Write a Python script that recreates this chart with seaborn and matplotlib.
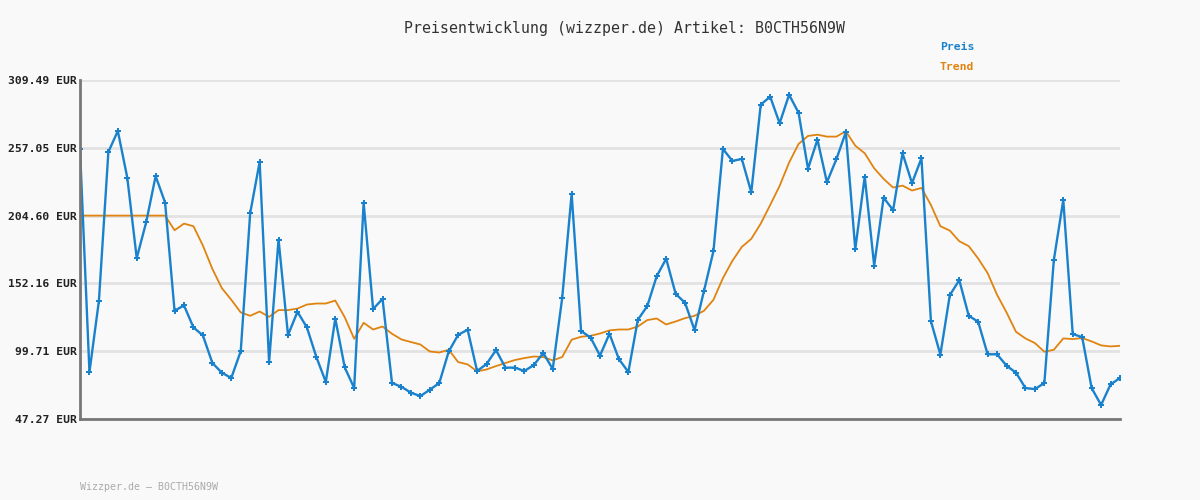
import matplotlib
matplotlib.use("Agg")
import matplotlib.pyplot as plt
import seaborn as sns
import numpy as np
import pandas as pd

title = "Preisentwicklung (wizzper.de) Artikel: B0CTH56N9W"
footer = "Wizzper.de – B0CTH56N9W"
y_ticks = [47.27, 99.71, 152.16, 204.60, 257.05, 309.49]

preis = [256.0, 83.6, 138.7, 253.8, 270.1, 234.0, 171.7, 199.5, 235.1, 214.7,
         131.0, 135.1, 118.1, 111.9, 90.6, 83.1, 79.0, 99.7, 206.5, 246.1,
         91.3, 186.1, 112.2, 130.2, 118.1, 95.2, 75.9, 125.0, 87.2, 71.2,
         214.4, 132.3, 140.2, 75.1, 72.2, 67.6, 65.0, 69.9, 75.1, 99.5,
         112.4, 116.3, 84.4, 89.8, 100.6, 87.0, 87.0, 84.4, 89.0, 98.3,
         85.9, 140.8, 221.4, 115.3, 110.3, 96.3, 113.2, 93.6, 83.6, 124.0,
         134.6, 157.8, 171.2, 144.1, 137.1, 116.0, 146.4, 177.1, 256.2, 246.9,
         248.4, 222.7, 290.4, 296.6, 276.0, 298.1, 284.2, 240.9, 263.4, 230.4,
         248.2, 269.1, 178.6, 234.8, 166.0, 218.5, 208.8, 252.8, 229.7, 249.0,
         123.0, 97.1, 143.1, 154.7, 127.1, 122.5, 97.3, 97.3, 88.5, 83.1,
         71.2, 70.4, 75.1, 170.1, 216.7, 113.0, 110.6, 71.2, 58.1, 74.0,
         79.0]

trend = [204.6, 204.6, 204.6, 204.6, 204.6, 204.6, 204.6, 204.6, 204.6, 204.6,
         193.3, 198.4, 196.4, 181.4, 163.4, 148.5, 139.5, 129.7, 127.1, 130.4,
         126.3, 131.5, 131.5, 132.7, 135.8, 136.6, 136.6, 138.9, 126.0, 109.3,
         121.7, 116.5, 118.8, 113.2, 108.8, 106.8, 104.9, 99.5, 98.7, 100.8,
         91.3, 89.5, 84.1, 85.6, 88.2, 90.6, 92.9, 94.4, 95.6, 95.2,
         92.6, 95.2, 108.6, 110.9, 111.6, 113.4, 115.8, 116.5, 116.5, 118.8,
         123.8, 125.0, 120.4, 122.7, 125.3, 127.1, 131.0, 139.5, 156.2, 169.6,
         180.4, 186.6, 198.4, 212.8, 227.6, 245.6, 260.0, 266.2, 267.2, 265.7,
         265.7, 269.8, 258.7, 252.8, 241.2, 233.0, 226.3, 227.8, 224.0, 226.0,
         212.8, 196.4, 193.0, 184.8, 181.0, 171.4, 160.1, 143.3, 129.7, 114.7,
         109.6, 106.0, 99.3, 100.8, 109.6, 109.1, 109.9, 107.3, 104.2, 103.4,
         103.9]

blue = "#1a82cc"
orange = "#e0830f"
bg = "#f9f9f9"

df = pd.DataFrame({"idx": np.arange(len(preis)), "Preis": preis, "Trend": trend})

sns.set_theme(style="white")
plt.rcParams['font.family'] = ['DejaVu Sans Mono', 'DejaVu Sans']

fig = plt.figure(figsize=(12, 5), dpi=100, facecolor=bg)
ax = fig.add_axes([80/1200, 1-419/500, 1040/1200, 339/500])
ax.set_facecolor(bg)

sns.lineplot(data=df, x="idx", y="Trend", ax=ax, color=orange, linewidth=1.3, zorder=3)
sns.lineplot(data=df, x="idx", y="Preis", ax=ax, color=blue, linewidth=1.7,
             marker="P", markersize=4, markeredgewidth=0, zorder=4)

ax.set_xlim(0, len(preis) - 1)
ax.set_ylim(y_ticks[0], y_ticks[-1])
ax.set_yticks(y_ticks)
ax.set_yticklabels([f"{v:.2f} EUR" for v in y_ticks], fontsize=8.2, fontweight="bold", color="#222222")
ax.set_xticks([])
ax.set_xlabel("")
ax.set_ylabel("")
ax.tick_params(axis="y", length=0, pad=2)
ax.yaxis.grid(True, color="#e2e2e2", linewidth=2)
ax.set_axisbelow(True)
for s in ["top", "right"]:
    ax.spines[s].set_visible(False)
ax.spines["left"].set_color("#777777")
ax.spines["left"].set_linewidth(2)
ax.spines["bottom"].set_color("#777777")
ax.spines["bottom"].set_linewidth(2)
ax.spines["left"].set_zorder(5)
ax.spines["bottom"].set_zorder(5)

fig.text(624/1200, 1-28/500, title, ha="center", va="center", fontsize=10.7, color="#333333")
fig.text(940/1200, 1-47/500, "Preis", ha="left", va="center", fontsize=8.2, fontweight="bold", color=blue)
fig.text(940/1200, 1-67/500, "Trend", ha="left", va="center", fontsize=8.2, fontweight="bold", color=orange)
fig.text(80/1200, 1-487/500, footer, ha="left", va="center", fontsize=7.2, color="#aaaaaa")

fig.savefig("out.png", dpi=100, facecolor=bg)
